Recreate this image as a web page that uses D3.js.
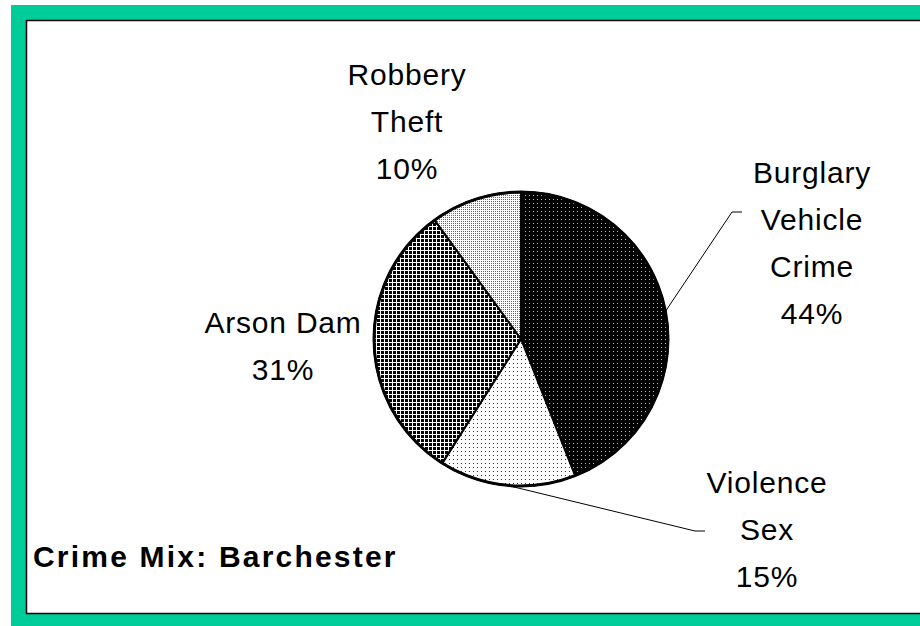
<!DOCTYPE html>
<html>
<head>
<meta charset="utf-8">
<script src="https://cdn.jsdelivr.net/npm/d3@7"></script>
<style>
  body { margin: 0; background: #fff; }
  text { font-family: "Liberation Sans", Arial, sans-serif; fill: #000; }
</style>
</head>
<body>
<script>
// data
var categories = [["Burglary", "Vehicle", "Crime"], ["Violence", "Sex"], ["Arson Dam"], ["Robbery", "Theft"]];
var values = [44, 15, 31, 10];
var patternIds = ["pBurglary", "pViolence", "pArson", "pRobbery"];

// label offsets from the pie centre (layout, not data)
var labelPos = [[291, -156], [246, 154], [-238, -6], [-114, -254]];
var leaderEnd = [[211, -127], [174, 192]];

var w = 920, h = 626;
var cx = 521, cy = 339, r = 147;
var lineH = 47;

var svg = d3.select("body").append("svg")
    .attr("width", w)
    .attr("height", h);

// patterns
var defs = svg.append("defs");

var p0 = defs.append("pattern").attr("id", "pBurglary")
    .attr("patternUnits", "userSpaceOnUse").attr("width", 4).attr("height", 4);
p0.append("rect").attr("width", 4).attr("height", 4).attr("fill", "#000");
p0.append("rect").attr("x", 0).attr("y", 0).attr("width", 1).attr("height", 1).attr("fill", "#bbb");

var p1 = defs.append("pattern").attr("id", "pViolence")
    .attr("patternUnits", "userSpaceOnUse").attr("width", 4).attr("height", 4);
p1.append("rect").attr("width", 4).attr("height", 4).attr("fill", "#fff");
p1.append("rect").attr("x", 0).attr("y", 0).attr("width", 1).attr("height", 1).attr("fill", "#333");

// arson: black square dots on white, 1px white grid between
var p2 = defs.append("pattern").attr("id", "pArson")
    .attr("patternUnits", "userSpaceOnUse").attr("width", 4).attr("height", 4)
    .attr("shape-rendering", "crispEdges");
p2.append("rect").attr("width", 4).attr("height", 4).attr("fill", "#fff");
p2.append("rect").attr("x", 0).attr("y", 0).attr("width", 3).attr("height", 3).attr("fill", "#000");

var p3 = defs.append("pattern").attr("id", "pRobbery")
    .attr("patternUnits", "userSpaceOnUse").attr("width", 2).attr("height", 2);
p3.append("rect").attr("width", 2).attr("height", 2).attr("fill", "#fff");
p3.append("rect").attr("x", 0).attr("y", 0).attr("width", 1).attr("height", 1).attr("fill", "#666");

// green frame + white plot area
svg.append("rect")
    .attr("x", 11).attr("y", 5)
    .attr("width", w - 11).attr("height", h - 5)
    .attr("fill", "#00cc99");

svg.append("rect")
    .attr("x", 26.5).attr("y", 20.5)
    .attr("width", w).attr("height", 593)
    .attr("fill", "#fff")
    .attr("stroke", "#000")
    .attr("stroke-width", 1.5);

var chart = svg.append("g")
    .attr("transform", "translate(" + cx + "," + cy + ")");

var pie = d3.pie().sort(null).value(function(d) { return d; });
var arcs = pie(values);

var arc = d3.arc().innerRadius(0).outerRadius(r);

chart.selectAll("path.slice")
    .data(arcs)
    .enter().append("path")
    .attr("class", "slice")
    .attr("d", arc)
    .attr("fill", function(d, i) { return "url(#" + patternIds[i] + ")"; })
    .attr("stroke", "#000")
    .attr("stroke-width", 2)
    .attr("stroke-linejoin", "round");

// heavier outline round the pie
chart.append("circle")
    .attr("r", r)
    .attr("fill", "none")
    .attr("stroke", "#000")
    .attr("stroke-width", 3);

// leader lines for the two right-hand slices
leaderEnd.forEach(function(e, i) {
    var a = (arcs[i].startAngle + arcs[i].endAngle) / 2;
    var sx = r * Math.sin(a), sy = -r * Math.cos(a);
    chart.append("polyline")
        .attr("points", [[sx, sy], e, [e[0] + 10, e[1]]].map(function(p) { return p.join(","); }).join(" "))
        .attr("fill", "none")
        .attr("stroke", "#000")
        .attr("stroke-width", 1);
});

// slice labels
var labels = chart.selectAll("g.label")
    .data(arcs)
    .enter().append("g")
    .attr("class", "label")
    .attr("transform", function(d, i) { return "translate(" + labelPos[i][0] + "," + labelPos[i][1] + ")"; });

labels.each(function(d, i) {
    var lines = categories[i].concat([values[i] + "%"]);
    var t = d3.select(this).append("text")
        .attr("text-anchor", "middle")
        .style("font-size", "30px")
        .style("letter-spacing", "0.8px");
    lines.forEach(function(s, j) {
        t.append("tspan")
            .attr("x", 0)
            .attr("y", j * lineH)
            .text(s);
    });
});

// title
svg.append("text")
    .attr("x", 33)
    .attr("y", 567)
    .style("font-size", "30px")
    .style("font-weight", "bold")
    .style("letter-spacing", "2.2px")
    .text("Crime Mix: Barchester");
</script>
</body>
</html>
